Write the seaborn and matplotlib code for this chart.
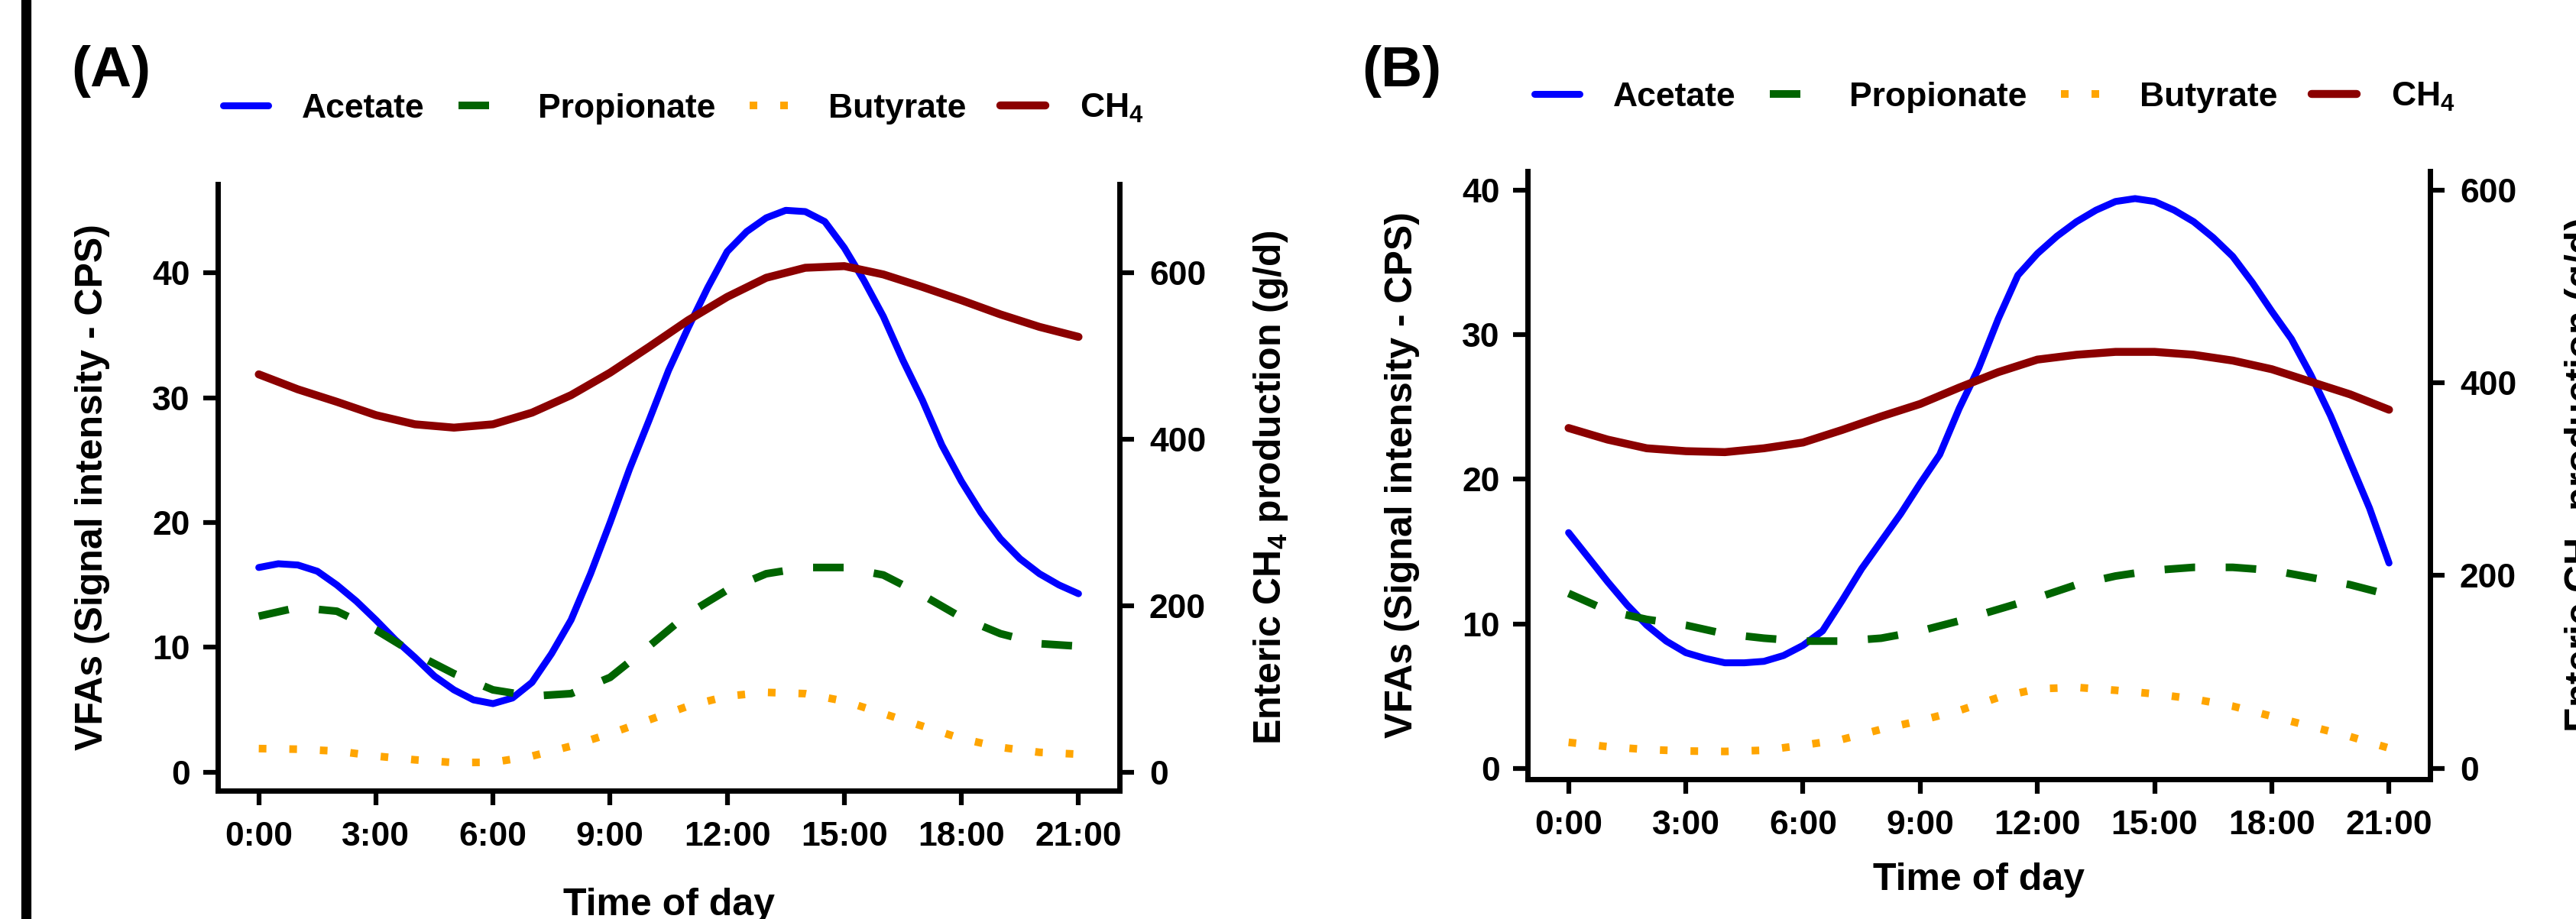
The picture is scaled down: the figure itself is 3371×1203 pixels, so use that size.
import numpy as np
import pandas as pd
import seaborn as sns
import matplotlib.pyplot as plt
from matplotlib.lines import Line2D

# Time axis (hours after midnight) and tick labels
hours = list(range(22))
half_hours = list(np.arange(0, 21.5, 0.5))
time_ticks = [0, 3, 6, 9, 12, 15, 18, 21]
time_labels = ["0:00", "3:00", "6:00", "9:00", "12:00", "15:00", "18:00", "21:00"]

# Panel A - VFAs (CPS) and enteric CH4 (g/d)
# acetate read every half hour (sharper curve), the rest every hour
acetate_a = [16.4, 16.7, 16.6, 16.1, 15.0, 13.7, 12.2, 10.6, 9.2, 7.7, 6.6, 5.8,
             5.5, 5.95, 7.2, 9.5, 12.2, 15.9, 20.0, 24.3, 28.2, 32.2, 35.6, 38.8,
             41.7, 43.3, 44.4, 45.0, 44.9, 44.1, 42.0, 39.4, 36.5, 33.0, 29.8, 26.2,
             23.3, 20.8, 18.7, 17.1, 15.9, 15.0, 14.3]
propionate_a = [12.5, 13.2, 12.9, 11.4, 9.5, 7.9, 6.6, 6.1, 6.3, 7.6, 10.1, 12.7,
                14.6, 15.9, 16.4, 16.4, 15.8, 14.2, 12.4, 11.1, 10.3, 10.1]
butyrate_a = [1.9, 1.85, 1.7, 1.3, 1.0, 0.78, 0.8, 1.3, 2.1, 3.1, 4.2, 5.3,
              6.1, 6.4, 6.3, 5.7, 4.7, 3.7, 2.7, 2.0, 1.6, 1.45]
ch4_a = [478, 460, 445, 429, 418, 414, 418, 432, 453, 480, 511, 543,
         571, 594, 606, 608, 598, 583, 567, 550, 535, 523]

# Panel B
acetate_b = [16.3, 14.6, 12.9, 11.3, 9.9, 8.8, 8.0, 7.6, 7.3, 7.3, 7.4, 7.8,
             8.5, 9.5, 11.6, 13.8, 15.7, 17.6, 19.7, 21.7, 24.9, 27.7, 31.1, 34.1,
             35.6, 36.8, 37.8, 38.6, 39.2, 39.4, 39.2, 38.6, 37.8, 36.7, 35.4, 33.6,
             31.6, 29.7, 27.2, 24.4, 21.2, 18.0, 14.2]
propionate_b = [12.1, 10.9, 10.3, 9.9, 9.3, 9.0, 8.8, 8.8, 9.0, 9.5, 10.2, 11.0,
                11.8, 12.7, 13.3, 13.7, 13.9, 13.9, 13.7, 13.2, 12.7, 12.0]
butyrate_b = [1.8, 1.5, 1.3, 1.2, 1.17, 1.25, 1.6, 2.0, 2.7, 3.3, 4.0, 4.9,
              5.5, 5.6, 5.4, 5.15, 4.8, 4.3, 3.6, 2.9, 2.2, 1.4]
ch4_b = [353, 341, 332, 329, 328, 332, 338, 351, 365, 378, 395, 411,
         424, 429, 432, 432, 429, 423, 414, 401, 388, 372]

vfa_ticks = [0, 10, 20, 30, 40]
ch4_ticks = [0, 200, 400, 600]
ch4_scale = 15  # secondary axis: CH4 = VFA * 15

W, H = 3371, 1203

sns.set_theme(style="ticks")
plt.rcParams['font.family'] = ['Liberation Sans', 'DejaVu Sans']
plt.rcParams['font.weight'] = 'bold'
plt.rcParams['mathtext.fontset'] = 'custom'
plt.rcParams['mathtext.rm'] = 'Liberation Sans:bold'
plt.rcParams['mathtext.default'] = 'regular'
for key in ['text.color', 'axes.labelcolor', 'xtick.color', 'ytick.color', 'axes.edgecolor']:
    plt.rcParams[key] = 'black'

colors = {"Acetate": "#0000FF", "Propionate": "#006400", "Butyrate": "#FFA500", "CH4": "#8B0000"}
styles = {
    "Acetate": dict(lw=6.5, linestyle="-"),
    "Propionate": dict(lw=7.2, linestyle=(0, (4, 4))),
    "Butyrate": dict(lw=7.2, linestyle=(0, (1, 3))),
    "CH4": dict(lw=7.5, linestyle="-"),
}

fig = plt.figure(figsize=(W / 100, H / 100), dpi=100)


def px(x, y):
    return x / W, 1 - y / H


def draw_panel(rect, acetate, propionate, butyrate, ch4, ylim, letter, letter_xy,
               legend_xy, ylab_x, rlab_x, xlab_y):
    ax = fig.add_axes(rect)
    ax2 = ax.twinx()
    sns.lineplot(x=half_hours, y=acetate, ax=ax, color=colors["Acetate"], **styles["Acetate"])
    sns.lineplot(x=hours, y=propionate, ax=ax, color=colors["Propionate"], **styles["Propionate"])
    sns.lineplot(x=hours, y=butyrate, ax=ax, color=colors["Butyrate"], **styles["Butyrate"])
    sns.lineplot(x=hours, y=ch4, ax=ax2, color=colors["CH4"], **styles["CH4"])

    ax.set_xlim(-1.05, 22.05)
    ax.set_ylim(*ylim)
    ax2.set_ylim(ylim[0] * ch4_scale, ylim[1] * ch4_scale)
    ax.set_xticks(time_ticks)
    ax.set_xticklabels(time_labels)
    ax.set_yticks(vfa_ticks)
    ax2.set_yticks(ch4_ticks)
    ax.set_xlabel("")
    ax.set_ylabel("")
    ax2.set_ylabel("")

    for a in (ax, ax2):
        for s in a.spines.values():
            s.set_linewidth(5)
            s.set_color("black")
        a.spines["top"].set_visible(False)
        a.tick_params(width=4.5, length=14, labelsize=32, color="black", labelcolor="black")
    ax.spines["right"].set_visible(False)
    ax2.spines["left"].set_visible(False)
    ax2.spines["bottom"].set_visible(False)
    ax.tick_params(axis="x", pad=15)
    ax.tick_params(axis="y", pad=12)
    ax2.tick_params(axis="y", pad=14)
    for t in ax.get_xticklabels() + ax.get_yticklabels() + ax2.get_yticklabels():
        t.set_fontweight("bold")

    # panel letter and axis titles
    fig.text(*px(*letter_xy), letter, fontsize=54, fontweight="bold", ha="center", va="center")
    cy = (1 - (rect[1] + rect[3] / 2)) * H
    fig.text(*px(ylab_x, cy), "VFAs (Signal intensity - CPS)", rotation=90, fontsize=36,
             fontweight="bold", ha="center", va="center")
    fig.text(*px(rlab_x, cy), "Enteric CH$_4$ production (g/d)", rotation=90, fontsize=36,
             fontweight="bold", ha="center", va="center")
    cx = (rect[0] + rect[2] / 2) * W
    fig.text(*px(cx, xlab_y), "Time of day", fontsize=36, fontweight="bold",
             ha="center", va="center")

    handles = [Line2D([], [], color=colors[n], **styles[n]) for n in colors]
    labels = ["Acetate", "Propionate", "Butyrate", "CH$_4$"]
    fig.legend(handles, labels, loc="center", bbox_to_anchor=px(*legend_xy), ncol=4,
               frameon=False, handlelength=1.33, handletextpad=1.0,
               columnspacing=1.0, prop={"weight": "bold", "size": 32})


draw_panel([285 / W, 1 - 1035 / H, 1180 / W, 794 / H],
           acetate_a, propionate_a, butyrate_a, ch4_a, (-1.47, 47.1), "(A)",
           (145, 93), (894, 142), 121, 1663, 1185)
draw_panel([1999 / W, 1 - 1020 / H, 1181 / W, 796 / H],
           acetate_b, propionate_b, butyrate_b, ch4_b, (-0.75, 41.3), "(B)",
           (1834, 93), (2610, 127), 1835, 3379, 1152)

# black frame edge on the left of the original image
fig.add_artist(Line2D([34 / W, 34 / W], [0, 1], color="black", lw=9.5, transform=fig.transFigure))

plt.savefig("out.png", dpi=100)
